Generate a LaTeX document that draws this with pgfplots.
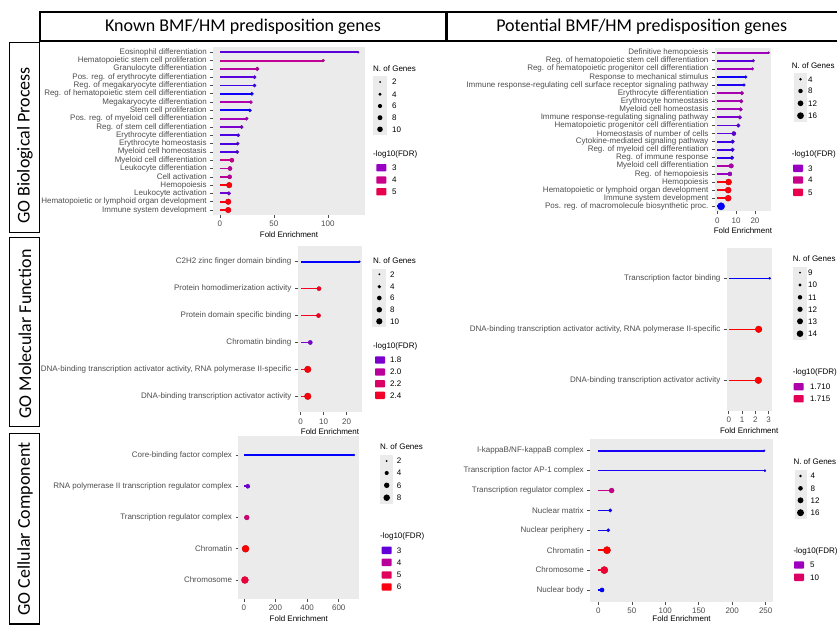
\documentclass[border=0pt]{standalone}
\usepackage{fontspec}
\setmainfont{Liberation Sans}
\newfontfamily\calibri{Carlito}
\usepackage{pgfplots}
\pgfplotsset{compat=1.18}
\usepackage{pgfplotstable}
\definecolor{bgc}{RGB}{235,235,235}
\definecolor{tkc}{RGB}{77,77,77}
\pgfplotsset{colormap={ggbr}{rgb255=(0,0,255) rgb255=(154,0,195) rgb255=(201,0,137) rgb255=(232,0,79) rgb255=(255,0,0)}}
\pgfplotsset{
  lolli/.style={
    scale only axis, anchor=south west,
    enlargelimits=false,
    axis x line*=bottom, axis y line*=left,
    axis line style={draw=none},
    axis background/.style={fill=bgc},
    tick align=outside,
    major tick length=2.75pt,
    every tick/.style={tkc, line width=0.6pt},
    tick label style={font=\fontsize{8}{9}\selectfont, text=tkc},
    /pgf/number format/assume math mode=true,
    xlabel={Fold Enrichment},
    xlabel style={font=\fontsize{8}{9}\selectfont, text=black, inner sep=1pt},
    ymin=0.4,
    colormap name=ggbr,
  },
  stems/.style={quiver={u=-\thisrow{fe}, v=0, colored=mapped color}, line width=#1, point meta=\thisrow{lf}},
  dots/.style n args={3}{scatter, only marks, mark=*, point meta=\thisrow{lf},
     visualization depends on={\thisrow{n} \as \ngen},
     scatter/@pre marker code/.append style={/tikz/mark size={sqrt(1+#3*(\ngen-#1)/(#2-#1))}}},
}
\tikzset{lg/.style={font=\fontsize{8}{9}\selectfont, anchor=west, inner sep=0pt}}
\newcommand\szk[5]{\fill[black] (#1,#2) circle[radius=#3pt]; \node[lg] at (#4,#2) {#5};}
\newcommand\clk[6]{\fill[fill={rgb,255:red,#3;green,0;blue,#4}, rounded corners=0.8pt] (#1-5,#2-3.7) rectangle (#1+5,#2+3.7); \node[lg] at (#5,#2) {#6};}

% y fe n lf  (y=1 is the bottom row)
\pgfplotstableread[row sep=\\]{
y fe n lf\\
1 7.7 10 5.8\\
2 7.7 10 5.8\\
3 8.3 5 2.7\\
4 8.6 10 5.9\\
5 9.0 6 3.7\\
6 9.3 6 3.7\\
7 11.1 6 4.0\\
8 16.0 4 2.5\\
9 16.4 4 2.5\\
10 17.0 4 2.5\\
11 20.1 4 2.8\\
12 24.7 4 3.2\\
13 27.8 4 2.1\\
14 28.7 4 3.4\\
15 29.6 4 2.1\\
16 32.1 4 2.4\\
17 32.1 4 2.6\\
18 34.6 5 3.6\\
19 95.7 3 3.8\\
20 128.0 2 2.6\\
}\tA
\pgfplotstableread[row sep=\\]{
y fe n lf\\
1 2.0 18 2.0\\
2 5.8 13 5.8\\
3 5.8 13 5.8\\
4 6.0 13 5.9\\
5 6.7 7 3.0\\
6 7.4 8 3.4\\
7 7.8 6 2.3\\
8 8.1 6 2.4\\
9 8.1 6 2.4\\
10 8.8 7 2.6\\
11 11.1 6 2.6\\
12 12.0 6 2.8\\
13 12.4 6 3.2\\
14 12.7 6 3.3\\
15 13.1 6 3.3\\
16 14.2 4 2.2\\
17 15.1 4 2.1\\
18 18.6 4 3.1\\
19 19.1 4 2.6\\
20 27.2 3 3.1\\
}\tB
\pgfplotstableread[row sep=\\]{
y fe n lf\\
1 3.1 11 2.49\\
2 3.1 11 2.49\\
3 4.2 5 1.80\\
4 7.8 5 2.43\\
5 8.0 5 2.43\\
6 25.6 2 1.62\\
}\tC
\pgfplotstableread[row sep=\\]{
y fe n lf\\
1 2.23 14 1.719\\
2 2.25 14 1.719\\
3 3.08 9 1.705\\
}\tD
\pgfplotstableread[row sep=\\]{
y fe n lf\\
1 7 9 5.5\\
2 11 9 6.2\\
3 19 5 4.6\\
4 25 4 3.1\\
5 695 2 2.4\\
}\tE
\pgfplotstableread[row sep=\\]{
y fe n lf\\
1 5.5 7 1.5\\
2 8.9 17 12.5\\
3 12.9 17 14.5\\
4 14.8 5 1.8\\
5 17.8 5 1.8\\
6 19.9 9 8.0\\
7 248.8 3 2.0\\
8 247.8 3 2.0\\
}\tF

\begin{document}
\begin{tikzpicture}[x=1pt,y=-1pt]
\useasboundingbox (0,0) rectangle (837,624);
\clip (0,0) rectangle (837,624);

% ---------- GO BP, known
\begin{axis}[lolli, at={(213pt,-215pt)}, width=152pt, height=167.7pt,
  xmin=-6.4, xmax=134.4, ymax=20.6, xtick={0,50,100}, ytick={1,...,20},
  yticklabels={{Immune system development},{Hematopoietic or lymphoid organ development},{Leukocyte activation},{Hemopoiesis},{Cell activation},{Leukocyte differentiation},{Myeloid cell differentiation},{Myeloid cell homeostasis},{Erythrocyte homeostasis},{Erythrocyte differentiation},{Reg. of stem cell differentiation},{Pos. reg. of myeloid cell differentiation},{Stem cell proliferation},{Megakaryocyte differentiation},{Reg. of hematopoietic stem cell differentiation},{Reg. of megakaryocyte differentiation},{Pos. reg. of erythrocyte differentiation},{Granulocyte differentiation},{Hematopoietic stem cell proliferation},{Eosinophil differentiation}},
  point meta min=2, point meta max=6]
\addplot[stems=1.9pt] table[x=fe,y=y]{\tA};
\addplot[dots={2}{10}{6.8}] table[x=fe,y=y]{\tA};
\end{axis}

% ---------- GO BP, potential
\begin{axis}[lolli, at={(714.7pt,-211.15pt)}, width=56.4pt, height=163.3pt,
  xmin=-1.36, xmax=28.56, ymax=20.6, xtick={0,10,20}, ytick={1,...,20},
  yticklabels={{Pos. reg. of macromolecule biosynthetic proc.},{Immune system development},{Hematopoietic or lymphoid organ development},{Hemopoiesis},{Reg. of hemopoiesis},{Myeloid cell differentiation},{Reg. of immune response},{Reg. of myeloid cell differentiation},{Cytokine-mediated signaling pathway},{Homeostasis of number of cells},{Hematopoietic progenitor cell differentiation},{Immune response-regulating signaling pathway},{Myeloid cell homeostasis},{Erythrocyte homeostasis},{Erythrocyte differentiation},{Immune response-regulating cell surface receptor signaling pathway},{Response to mechanical stimulus},{Reg. of hematopoietic progenitor cell differentiation},{Reg. of hematopoietic stem cell differentiation},{Definitive hemopoiesis}},
  point meta min=2, point meta max=6]
\addplot[stems=1.9pt] table[x=fe,y=y]{\tB};
\addplot[dots={3}{18}{12}] table[x=fe,y=y]{\tB};
\end{axis}

% ---------- GO MF, known
\begin{axis}[lolli, at={(297.7pt,-412.45pt)}, width=64.6pt, height=166.9pt,
  xmin=-1.28, xmax=26.88, ymax=6.6, xtick={0,10,20}, ytick={1,...,6},
  yticklabels={{DNA-binding transcription activator activity},{DNA-binding transcription activator activity, RNA polymerase II-specific},{Chromatin binding},{Protein domain specific binding},{Protein homodimerization activity},{C2H2 zinc finger domain binding}},
  point meta min=1.62, point meta max=2.52]
\addplot[stems=1.6pt] table[x=fe,y=y]{\tC};
\addplot[dots={2}{11}{9.9}] table[x=fe,y=y]{\tC};
\end{axis}

% ---------- GO MF, potential
\begin{axis}[lolli, at={(726.7pt,-410.9pt)}, width=45pt, height=163.2pt,
  xmin=-0.154, xmax=3.234, ymax=3.6, xtick={0,1,2,3}, ytick={1,2,3},
  yticklabels={{DNA-binding transcription activator activity},{DNA-binding transcription activator activity, RNA polymerase II-specific},{Transcription factor binding}},
  point meta min=1.705, point meta max=1.719]
\addplot[stems=1.6pt] table[x=fe,y=y]{\tD};
\addplot[dots={9}{14}{9.9}] table[x=fe,y=y]{\tD};
\end{axis}

% ---------- GO CC, known
\begin{axis}[lolli, at={(238.3pt,-598.75pt)}, width=121pt, height=162.5pt,
  xmin=-34.75, xmax=729.75, ymax=5.6, xtick={0,200,400,600}, ytick={1,...,5},
  yticklabels={{Chromosome},{Chromatin},{Transcription regulator complex},{RNA polymerase II transcription regulator complex},{Core-binding factor complex}},
  point meta min=2.4, point meta max=6.2]
\addplot[stems=1.6pt] table[x=fe,y=y]{\tE};
\addplot[dots={2}{9}{11.25}] table[x=fe,y=y]{\tE};
\end{axis}

% ---------- GO CC, potential
\begin{axis}[lolli, at={(590pt,-601.9pt)}, width=183.2pt, height=163.1pt,
  xmin=-12.44, xmax=261.24, ymax=8.6, xtick={0,50,...,250}, ytick={1,...,8},
  xlabel style={yshift=3pt},
  yticklabels={{Nuclear body},{Chromosome},{Chromatin},{Nuclear periphery},{Nuclear matrix},{Transcription regulator complex},{Transcription factor AP-1 complex},{I-kappaB/NF-kappaB complex}},
  point meta min=1.5, point meta max=14.5]
\addplot[stems=1.6pt] table[x=fe,y=y]{\tF};
\addplot[dots={3}{17}{11.96}] table[x=fe,y=y]{\tF};
\end{axis}

% ---------- headers and row boxes
\draw[line width=1.3pt] (40,12) rectangle (446,41);
\draw[line width=1.3pt] (447,12) rectangle (838,41);
\node[font=\calibri\fontsize{18}{20}\selectfont] at (243,26.5) {Known BMF/HM predisposition genes};
\node[font=\calibri\fontsize{18}{20}\selectfont] at (641.7,26.5) {Potential BMF/HM predisposition genes};
\draw[line width=1.3pt, fill=white] (9.3,42.7) rectangle (39.3,232.3);
\draw[line width=1.3pt, fill=white] (9.3,237.3) rectangle (39.3,426.7);
\draw[line width=1.3pt, fill=white] (9.3,433.3) rectangle (39.3,624);
\node[rotate=90, font=\calibri\fontsize{18}{20}\selectfont] at (25,145.5) {GO Biological Process};
\node[rotate=90, font=\calibri\fontsize{18}{20}\selectfont] at (25,334) {GO Molecular Function};
\node[rotate=90, font=\calibri\fontsize{18}{20}\selectfont] at (25,529) {GO Cellular Component};

% ---------- legends P1
\node[lg] at (373,69) {N. of Genes};
\fill[bgc] (373,76) rectangle (387,135);
\szk{380}{82}{1.0}{392}{2}
\szk{380}{94.3}{1.64}{392}{4}
\szk{380}{106}{2.1}{392}{6}
\szk{380}{117.7}{2.47}{392}{8}
\szk{380}{129.3}{2.79}{392}{10}
\node[lg] at (373,154) {-log10(FDR)};
\clk{381.3}{167.7}{154}{195}{392}{3}
\clk{381.3}{180}{201}{137}{392}{4}
\clk{381.3}{191.7}{232}{79}{392}{5}
% P2
\node[lg] at (791.7,65.7) {N. of Genes};
\fill[bgc] (794.3,73) rectangle (806.5,122);
\szk{800.5}{79.3}{1.34}{808}{4}
\szk{800.5}{91}{2.24}{808}{8}
\szk{800.5}{103.3}{2.86}{808}{12}
\szk{800.5}{115.7}{3.38}{808}{16}
\node[lg] at (791.7,154.3) {-log10(FDR)};
\clk{798}{168.3}{154}{195}{808}{3}
\clk{798}{180}{201}{137}{808}{4}
\clk{798}{192.3}{232}{79}{808}{5}
% P3
\node[lg] at (373,260.7) {N. of Genes};
\fill[bgc] (372.3,268.5) rectangle (386,327);
\szk{379.3}{274.3}{1.0}{390}{2}
\szk{379.3}{286.7}{1.79}{390}{4}
\szk{379.3}{298}{2.32}{390}{6}
\szk{379.3}{309.7}{2.76}{390}{8}
\szk{379.3}{321.3}{3.13}{390}{10}
\node[lg] at (373,346.7) {-log10(FDR)};
\clk{380}{360}{123}{207}{390}{1.8}
\clk{380}{372}{186}{155}{390}{2.0}
\clk{380}{383.7}{219}{104}{390}{2.2}
\clk{380}{395.3}{243}{42}{390}{2.4}
% P4
\node[lg] at (792.7,258.3) {N. of Genes};
\fill[bgc] (793.3,267) rectangle (806.7,339.5);
\szk{800}{272.7}{1.0}{808}{9}
\szk{800}{285}{1.73}{808}{10}
\szk{800}{297.3}{2.23}{808}{11}
\szk{800}{309.3}{2.63}{808}{12}
\szk{800}{321.3}{2.99}{808}{13}
\szk{800}{333.7}{3.3}{808}{14}
\node[lg] at (792.7,372.3) {-log10(FDR)};
\clk{798.7}{386.7}{174}{170}{810}{1.710}
\clk{798.7}{398.7}{228}{87}{810}{1.715}
% P5
\node[lg] at (380,446.7) {N. of Genes};
\fill[bgc] (380,455) rectangle (393.3,503.5);
\szk{386.7}{461}{1.0}{396.7}{2}
\szk{386.7}{473}{2.05}{396.7}{4}
\szk{386.7}{485.3}{2.73}{396.7}{6}
\szk{386.7}{497.7}{3.26}{396.7}{8}
\node[lg] at (380,536.7) {-log10(FDR)};
\clk{386.7}{550.3}{97}{217}{396.7}{3}
\clk{386.7}{562.3}{186}{155}{396.7}{4}
\clk{386.7}{575}{224}{94}{396.7}{5}
\clk{386.7}{587}{250}{17}{396.7}{6}
% P6
\node[lg] at (793.3,461.7) {N. of Genes};
\fill[bgc] (794.5,470) rectangle (807,519);
\szk{800.5}{476}{1.36}{810.5}{4}
\szk{800.5}{488.3}{2.3}{810.5}{8}
\szk{800.5}{500.3}{2.95}{810.5}{12}
\szk{800.5}{512.7}{3.48}{810.5}{16}
\node[lg] at (793.3,551.7) {-log10(FDR)};
\clk{799}{565}{158}{191}{810}{5}
\clk{799}{577.3}{220}{101}{810}{10}
\end{tikzpicture}
\end{document}
